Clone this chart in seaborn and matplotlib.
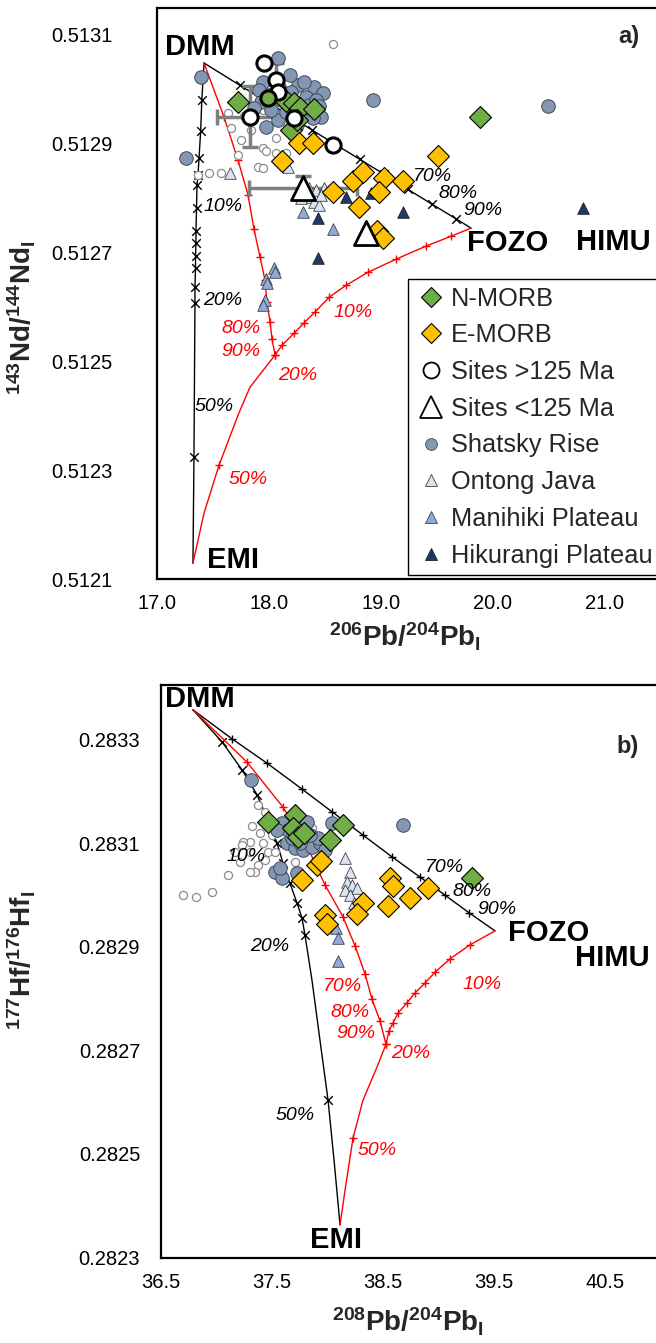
import matplotlib
matplotlib.use("Agg")
import matplotlib.pyplot as plt
import seaborn as sns
from matplotlib.lines import Line2D
from matplotlib.ticker import FormatStrFormatter, FixedLocator

sns.set_style("white")
plt.rcParams["font.family"] = ["Liberation Sans", "DejaVu Sans"]
plt.rcParams["mathtext.fontset"] = "custom"
plt.rcParams["mathtext.rm"] = "Liberation Sans"
plt.rcParams["mathtext.bf"] = "Liberation Sans:bold"
plt.rcParams["mathtext.it"] = "Liberation Sans:italic"

GREEN = "#70AD47"
ORANGE = "#FFC000"
SHATSKY = "#8497B0"
ONTONG = "#DAE3F3"
MANIHIKI = "#8FAADC"
HIKURANGI = "#1F3864"
OPEN_GREY = "#8C8C8C"
ERR_GREY = "#7F7F7F"
RED = "#FF0000"

# ---------------- Panel a: 143Nd/144Nd vs 206Pb/204Pb ----------------
a_xticks = [17.0, 18.0, 19.0, 20.0, 21.0]
a_yticks = [0.5121, 0.5123, 0.5125, 0.5127, 0.5129, 0.5131]

# mixing curves
a_dmm_emi_x = [17.42, 17.40, 17.39, 17.375, 17.366, 17.357, 17.353, 17.348, 17.348,
               17.344, 17.344, 17.339, 17.339, 17.330, 17.321]
a_dmm_emi_y = [0.513047, 0.512979, 0.512922, 0.512872, 0.512841, 0.512823, 0.512781,
               0.512739, 0.512717, 0.512693, 0.512671, 0.512636, 0.512607, 0.512324,
               0.512129]
a_dmm_emi_ticks = list(range(1, 14))

a_dmm_fozo_x = [17.42, 17.741, 17.955, 18.170, 18.384, 18.598, 18.813, 19.027, 19.241,
                19.455, 19.670, 19.804]
a_dmm_fozo_y = [0.513047, 0.513006, 0.512979, 0.512952, 0.512924, 0.512897, 0.512870,
                0.512843, 0.512815, 0.512788, 0.512761, 0.512744]
a_dmm_fozo_ticks = list(range(1, 11))

a_dmm_mix_x = [17.420, 17.598, 17.723, 17.8125, 17.866, 17.920, 17.964, 17.982, 18.009,
               18.027, 18.054]
a_dmm_mix_y = [0.513047, 0.512948, 0.512869, 0.512805, 0.512742, 0.512691, 0.512649,
               0.512608, 0.512572, 0.512540, 0.512511]
a_dmm_mix_ticks = list(range(1, 11))

a_emi_fozo_x = [17.321, 17.420, 17.554, 17.732, 17.830, 18.054, 18.116, 18.223, 18.3125,
                18.411, 18.536, 18.6875, 18.884, 19.134, 19.402, 19.625, 19.804]
a_emi_fozo_y = [0.512129, 0.512221, 0.512309, 0.512405, 0.512452, 0.512511, 0.512529,
                0.512551, 0.512570, 0.512590, 0.512617, 0.512639, 0.512663, 0.512687,
                0.512711, 0.512729, 0.512744]
a_emi_fozo_ticks = [2] + list(range(5, 16))

# samples
a_nmorb_x = [17.723, 18.152, 18.223, 18.277, 18.402, 18.196, 18.250, 19.884]
a_nmorb_y = [0.512975, 0.512977, 0.512974, 0.512964, 0.512962, 0.512924, 0.512942, 0.512948]

a_emorb_x = [18.268, 18.393, 18.116, 18.571, 18.750, 18.839, 19.027, 19.196, 18.982,
             18.804, 18.964, 19.018, 19.509]
a_emorb_y = [0.512900, 0.512900, 0.512867, 0.512810, 0.512830, 0.512847, 0.512836,
             0.512830, 0.512810, 0.512783, 0.512739, 0.512726, 0.512876]

a_old_x = [17.955, 18.0625, 18.080, 17.830, 18.223, 18.571]
a_old_y = [0.513047, 0.513016, 0.512994, 0.512948, 0.512946, 0.512896]
a_old_nmorb_x = [17.991]
a_old_nmorb_y = [0.512983]

a_young_x = [18.304, 18.866]
a_young_y = [0.512818, 0.512735]

a_err_x = [17.830, 18.0625, 18.304]
a_err_y = [0.512948, 0.513016, 0.512818]
a_err_dx = [0.29, 0.0, 0.48]
a_err_dy = [0.000056, 0.000031, 0.000022]

a_shatsky_x = [17.393, 17.259, 18.080, 17.946, 17.911, 18.089, 18.259, 18.402, 18.482,
               18.3125, 18.000, 17.929, 18.107, 18.330, 18.196, 18.464, 18.393, 18.080,
               17.973, 18.286, 18.357, 18.420, 18.018, 18.152, 18.250, 18.929, 20.491,
               18.1875, 17.866, 18.446]
a_shatsky_y = [0.513021, 0.512873, 0.513056, 0.513012, 0.512997, 0.513003, 0.513006,
               0.513003, 0.512992, 0.513012, 0.512988, 0.512975, 0.512979, 0.512984,
               0.512994, 0.512948, 0.512946, 0.512942, 0.512929, 0.512961, 0.512970,
               0.512979, 0.512961, 0.512957, 0.512933, 0.512979, 0.512968, 0.513025,
               0.512964, 0.512968]

a_other_x = [18.571, 17.634, 17.777, 17.946, 18.018, 18.0625, 17.946, 17.973, 18.0625,
             18.152, 17.723, 17.902, 17.946, 17.366, 17.464, 17.571, 17.661, 17.839, 17.750]
a_other_y = [0.513082, 0.512955, 0.512950, 0.512961, 0.512961, 0.512909, 0.512891,
             0.512886, 0.512882, 0.512882, 0.512878, 0.512856, 0.512854, 0.512841,
             0.512845, 0.512845, 0.512928, 0.512924, 0.512906]

a_ontong_x = [17.652, 18.170, 18.357, 18.420, 18.491, 18.348, 18.402, 18.446, 18.286, 18.464]
a_ontong_y = [0.512845, 0.512856, 0.512818, 0.512814, 0.512818, 0.512801, 0.512792,
              0.512786, 0.512799, 0.512805]

a_manihiki_x = [18.304, 18.571, 18.045, 18.054, 17.973, 17.964, 17.946, 17.982]
a_manihiki_y = [0.512773, 0.512742, 0.512671, 0.512663, 0.512650, 0.512612, 0.512603, 0.512643]

a_hikurangi_x = [18.6875, 18.911, 18.4375, 19.196, 18.4375, 20.804]
a_hikurangi_y = [0.512801, 0.512808, 0.512762, 0.512773, 0.512689, 0.512781]

a_black_pct = ["10%", "20%", "50%", "70%", "80%", "90%"]
a_black_pct_x = [17.589, 17.589, 17.509, 19.464, 19.6875, 19.911]
a_black_pct_y = [0.512783, 0.512612, 0.512416, 0.512838, 0.512807, 0.512777]
a_red_pct = ["80%", "90%", "20%", "10%", "50%"]
a_red_pct_x = [17.750, 17.750, 18.259, 18.750, 17.8125]
a_red_pct_y = [0.512559, 0.512518, 0.512474, 0.512590, 0.512282]

# ---------------- Panel b: 177Hf/176Hf vs 208Pb/204Pb ----------------
b_xticks = [36.5, 37.5, 38.5, 39.5, 40.5]
b_yticks = [0.2823, 0.2825, 0.2827, 0.2829, 0.2831, 0.2833]

b_dmm_fozo_x = [36.788, 37.140, 37.455, 37.770, 38.041, 38.320, 38.581, 38.833, 39.059,
                39.275, 39.509]
b_dmm_fozo_y = [0.283358, 0.283302, 0.283255, 0.283205, 0.283161, 0.283116, 0.283074,
                0.283035, 0.283000, 0.282966, 0.282931]
b_dmm_fozo_ticks = list(range(1, 10))

b_dmm_emi_x = [36.788, 37.050, 37.230, 37.365, 37.464, 37.545, 37.599, 37.662, 37.725,
               37.770, 37.797, 37.860, 37.932, 38.005, 38.059, 38.113]
b_dmm_emi_y = [0.283358, 0.283296, 0.283242, 0.283194, 0.283145, 0.283101, 0.283062,
               0.283023, 0.282985, 0.282956, 0.282923, 0.282836, 0.282720, 0.282604,
               0.282488, 0.282363]
b_dmm_emi_ticks = list(range(1, 11)) + [13]

b_dmm_mix_x = [36.788, 37.275, 37.599, 37.824, 37.977, 38.140, 38.248, 38.338, 38.401,
               38.473, 38.527]
b_dmm_mix_y = [0.283358, 0.283257, 0.283170, 0.283091, 0.283020, 0.282958, 0.282902,
               0.282848, 0.282799, 0.282757, 0.282712]
b_dmm_mix_ticks = list(range(1, 11))

b_emi_fozo_x = [38.113, 38.158, 38.230, 38.320, 38.446, 38.527, 38.554, 38.590, 38.635,
                38.716, 38.788, 38.878, 38.968, 39.104, 39.284, 39.509]
b_emi_fozo_y = [0.282363, 0.282430, 0.282531, 0.282604, 0.282668, 0.282712, 0.282738,
                0.282753, 0.282772, 0.282792, 0.282811, 0.282830, 0.282851, 0.282877,
                0.282904, 0.282931]
b_emi_fozo_ticks = [2] + list(range(5, 15))

b_nmorb_x = [37.464, 37.707, 37.689, 37.734, 37.788, 38.023, 38.140, 39.302]
b_nmorb_y = [0.283141, 0.283155, 0.283130, 0.283112, 0.283120, 0.283107, 0.283135, 0.283033]

b_emorb_x = [37.905, 37.941, 37.770, 38.563, 38.590, 38.905, 38.743, 38.545, 38.320,
             38.266, 37.977, 37.995]
b_emorb_y = [0.283058, 0.283066, 0.283029, 0.283033, 0.283018, 0.283014, 0.282995,
             0.282979, 0.282985, 0.282964, 0.282962, 0.282944]

b_shatsky_x = [37.311, 37.590, 37.644, 37.635, 37.707, 37.779, 37.860, 37.932, 37.914,
               37.815, 38.041, 37.545, 37.680, 37.527, 37.590, 37.725, 37.572, 37.752,
               38.680, 37.842, 37.977]
b_shatsky_y = [0.283223, 0.283139, 0.283126, 0.283101, 0.283091, 0.283087, 0.283093,
               0.283101, 0.283110, 0.283141, 0.283139, 0.283126, 0.283110, 0.283045,
               0.283033, 0.283043, 0.283052, 0.283101, 0.283135, 0.283116, 0.283087]

b_other_x = [37.374, 37.437, 37.392, 37.320, 37.860, 37.302, 37.239, 37.419, 37.302,
             37.464, 37.230, 37.437, 37.374, 37.347, 37.302, 37.104, 36.959, 36.815,
             36.698, 37.500, 37.167, 37.527, 37.707, 37.212]
b_other_y = [0.283174, 0.283161, 0.283120, 0.283133, 0.283130, 0.283103, 0.283103,
             0.283101, 0.283083, 0.283083, 0.283097, 0.283068, 0.283058, 0.283045,
             0.283045, 0.283039, 0.283006, 0.282997, 0.283000, 0.283116, 0.283083,
             0.283083, 0.283064, 0.283064]

b_ontong_x = [38.158, 38.203, 38.176, 38.221, 38.158, 38.266, 38.203, 38.239]
b_ontong_y = [0.283072, 0.283045, 0.283025, 0.283020, 0.283010, 0.283014, 0.283000, 0.282985]

b_manihiki_x = [38.077, 38.095, 38.095]
b_manihiki_y = [0.282937, 0.282917, 0.282873]

b_black_pct = ["10%", "20%", "50%", "70%", "80%", "90%"]
b_black_pct_x = [37.266, 37.482, 37.707, 39.050, 39.302, 39.527]
b_black_pct_y = [0.283075, 0.282900, 0.282575, 0.283054, 0.283008, 0.282973]
b_red_pct = ["70%", "80%", "90%", "20%", "10%", "50%"]
b_red_pct_x = [38.140, 38.203, 38.257, 38.752, 39.392, 38.446]
b_red_pct_y = [0.282823, 0.282774, 0.282732, 0.282695, 0.282827, 0.282506]


def mixing_curve(ax, xs, ys, ticks, color, tick_marker):
    sns.lineplot(x=xs, y=ys, sort=False, estimator=None, color=color,
                 linewidth=1.0, ax=ax, zorder=2)
    sns.scatterplot(x=[xs[i] for i in ticks], y=[ys[i] for i in ticks],
                    marker=tick_marker, s=38, color=color, linewidth=1.0,
                    ax=ax, zorder=2, legend=False)


def points(ax, xs, ys, marker, s, face, edge, lw, z):
    sns.scatterplot(x=xs, y=ys, marker=marker, s=s, color=face, edgecolor=edge,
                    linewidth=lw, ax=ax, zorder=z, legend=False)


def style_axis(ax, xticks, yticks, xfmt, yfmt, ypad):
    for side in ["left", "right", "top", "bottom"]:
        ax.spines[side].set_visible(True)
        ax.spines[side].set_color("black")
        ax.spines[side].set_linewidth(1.6)
    ax.xaxis.set_major_locator(FixedLocator(xticks))
    ax.yaxis.set_major_locator(FixedLocator(yticks))
    ax.xaxis.set_major_formatter(FormatStrFormatter(xfmt))
    ax.yaxis.set_major_formatter(FormatStrFormatter(yfmt))
    ax.tick_params(axis="both", direction="in", length=6, width=1.6,
                   labelsize=14.5, colors="black")
    ax.tick_params(axis="x", pad=11)
    ax.tick_params(axis="y", pad=ypad)
    ax.grid(False)
    ax.set_xlabel("")
    ax.set_ylabel("")


fig = plt.figure(figsize=(6.56, 13.43), dpi=100)
ax_a = fig.add_axes([157 / 656, 1 - 579 / 1343, 537.6 / 656, 571 / 1343])
ax_b = fig.add_axes([161 / 656, 1 - 1257.5 / 1343, 532.8 / 656, 572.5 / 1343])

# ---- panel a ----
mixing_curve(ax_a, a_dmm_emi_x, a_dmm_emi_y, a_dmm_emi_ticks, "black", "x")
mixing_curve(ax_a, a_dmm_fozo_x, a_dmm_fozo_y, a_dmm_fozo_ticks, "black", "x")
mixing_curve(ax_a, a_dmm_mix_x, a_dmm_mix_y, a_dmm_mix_ticks, RED, "+")
mixing_curve(ax_a, a_emi_fozo_x, a_emi_fozo_y, a_emi_fozo_ticks, RED, "+")

ax_a.errorbar(a_err_x, a_err_y, xerr=a_err_dx, yerr=a_err_dy, fmt="none",
              ecolor=ERR_GREY, elinewidth=2.5, capsize=6, capthick=2.5, zorder=2.6)

points(ax_a, a_other_x, a_other_y, "o", 34, "white", OPEN_GREY, 0.9, 2.5)
points(ax_a, a_ontong_x, a_ontong_y, "^", 70, ONTONG, "#404040", 0.6, 3)
points(ax_a, a_manihiki_x, a_manihiki_y, "^", 70, MANIHIKI, "#404040", 0.6, 3)
points(ax_a, a_hikurangi_x, a_hikurangi_y, "^", 70, HIKURANGI, "#202020", 0.6, 3)
points(ax_a, a_shatsky_x, a_shatsky_y, "o", 95, SHATSKY, "#3A4A5E", 0.7, 3.5)
points(ax_a, a_nmorb_x, a_nmorb_y, "D", 125, GREEN, "black", 0.8, 4)
points(ax_a, a_emorb_x, a_emorb_y, "D", 125, ORANGE, "black", 0.8, 4)
points(ax_a, a_old_x, a_old_y, "o", 120, "white", "black", 2.2, 5)
points(ax_a, a_old_nmorb_x, a_old_nmorb_y, "o", 120, GREEN, "black", 2.2, 5)
points(ax_a, a_young_x, a_young_y, "^", 300, "white", "black", 2.0, 5)

for t, x, y in zip(a_black_pct, a_black_pct_x, a_black_pct_y):
    ax_a.text(x, y, t, fontsize=14, fontstyle="italic", color="black",
              ha="center", va="center", zorder=6)
for t, x, y in zip(a_red_pct, a_red_pct_x, a_red_pct_y):
    ax_a.text(x, y, t, fontsize=14, fontstyle="italic", color=RED,
              ha="center", va="center", zorder=6)

end_kw = dict(fontsize=21, fontweight="bold", color="black", zorder=6)
ax_a.text(17.071, 0.513076, "DMM", ha="left", va="center", **end_kw)
ax_a.text(20.134, 0.512717, "FOZO", ha="center", va="center", **end_kw)
ax_a.text(21.071, 0.512718, "HIMU", ha="center", va="center", **end_kw)
ax_a.text(17.679, 0.512135, "EMI", ha="center", va="center", **end_kw)
ax_a.text(21.214, 0.513096, "a)", ha="center", va="center", fontsize=17,
          fontweight="bold", zorder=6)

ax_a.set_xlim(17.0, 17.0 + 537.6 / 112)
ax_a.set_ylim(0.5121, 0.513148)
style_axis(ax_a, a_xticks, a_yticks, "%.1f", "%.4f", 32)

legend_handles = [
    Line2D([], [], ls="", marker="D", markersize=10, mfc=GREEN, mec="black", mew=0.8,
           label="N-MORB"),
    Line2D([], [], ls="", marker="D", markersize=10, mfc=ORANGE, mec="black", mew=0.8,
           label="E-MORB"),
    Line2D([], [], ls="", marker="o", markersize=11.5, mfc="white", mec="black", mew=1.3,
           label="Sites >125 Ma"),
    Line2D([], [], ls="", marker="^", markersize=16, mfc="white", mec="black", mew=1.3,
           label="Sites <125 Ma"),
    Line2D([], [], ls="", marker="o", markersize=8.5, mfc=SHATSKY, mec="#3A4A5E", mew=0.6,
           label="Shatsky Rise"),
    Line2D([], [], ls="", marker="^", markersize=8.5, mfc=ONTONG, mec="#404040", mew=0.6,
           label="Ontong Java"),
    Line2D([], [], ls="", marker="^", markersize=8.5, mfc=MANIHIKI, mec="#404040", mew=0.6,
           label="Manihiki Plateau"),
    Line2D([], [], ls="", marker="^", markersize=8.5, mfc=HIKURANGI, mec="#202020", mew=0.6,
           label="Hikurangi Plateau"),
]
leg = ax_a.legend(handles=legend_handles, loc="upper left",
                  bbox_to_anchor=((408 - 157) / 537.6, (579 - 279) / 571),
                  frameon=True, fancybox=False, edgecolor="black", framealpha=1,
                  fontsize=18.3, labelspacing=0.5, handletextpad=0.2,
                  handlelength=1.2, borderpad=0.3, borderaxespad=0)
leg.get_frame().set_linewidth(1.0)
leg.set_zorder(10)

# ---- panel b ----
mixing_curve(ax_b, b_dmm_fozo_x, b_dmm_fozo_y, b_dmm_fozo_ticks, "black", "+")
mixing_curve(ax_b, b_dmm_emi_x, b_dmm_emi_y, b_dmm_emi_ticks, "black", "x")
mixing_curve(ax_b, b_dmm_mix_x, b_dmm_mix_y, b_dmm_mix_ticks, RED, "+")
mixing_curve(ax_b, b_emi_fozo_x, b_emi_fozo_y, b_emi_fozo_ticks, RED, "+")

points(ax_b, b_other_x, b_other_y, "o", 34, "white", OPEN_GREY, 0.9, 2.5)
points(ax_b, b_ontong_x, b_ontong_y, "^", 70, ONTONG, "#404040", 0.6, 3)
points(ax_b, b_manihiki_x, b_manihiki_y, "^", 70, MANIHIKI, "#404040", 0.6, 3)
points(ax_b, b_shatsky_x, b_shatsky_y, "o", 95, SHATSKY, "#3A4A5E", 0.7, 3.5)
points(ax_b, b_nmorb_x, b_nmorb_y, "D", 125, GREEN, "black", 0.8, 4)
points(ax_b, b_emorb_x, b_emorb_y, "D", 125, ORANGE, "black", 0.8, 4)

for t, x, y in zip(b_black_pct, b_black_pct_x, b_black_pct_y):
    ax_b.text(x, y, t, fontsize=14, fontstyle="italic", color="black",
              ha="center", va="center", zorder=6)
for t, x, y in zip(b_red_pct, b_red_pct_x, b_red_pct_y):
    ax_b.text(x, y, t, fontsize=14, fontstyle="italic", color=RED,
              ha="center", va="center", zorder=6)

ax_b.text(36.536, 0.283379, "DMM", ha="left", va="center", **end_kw)
ax_b.text(39.995, 0.282927, "FOZO", ha="center", va="center", **end_kw)
ax_b.text(40.563, 0.282879, "HIMU", ha="center", va="center", **end_kw)
ax_b.text(38.077, 0.282334, "EMI", ha="center", va="center", **end_kw)
ax_b.text(40.707, 0.283288, "b)", ha="center", va="center", fontsize=17,
          fontweight="bold", zorder=6)

ax_b.set_xlim(36.5, 36.5 + 532.8 / 111)
ax_b.set_ylim(0.2823, 0.283406)
style_axis(ax_b, b_xticks, b_yticks, "%.1f", "%.4f", 15)

# axis titles
lab_kw = dict(fontsize=20, ha="center", va="center")
fig.text(22 / 656, 1 - 318 / 1343, r"$\mathbf{^{143}Nd/^{144}Nd_I}$", rotation=90, **lab_kw)
fig.text(405 / 656, 1 - 637 / 1343, r"$\mathbf{^{206}Pb/^{204}Pb_I}$", **lab_kw)
fig.text(22 / 656, 1 - 960 / 1343, r"$\mathbf{^{177}Hf/^{176}Hf_I}$", rotation=90, **lab_kw)
fig.text(408 / 656, 1 - 1322 / 1343, r"$\mathbf{^{208}Pb/^{204}Pb_I}$", **lab_kw)

fig.savefig("out.png", dpi=100)
